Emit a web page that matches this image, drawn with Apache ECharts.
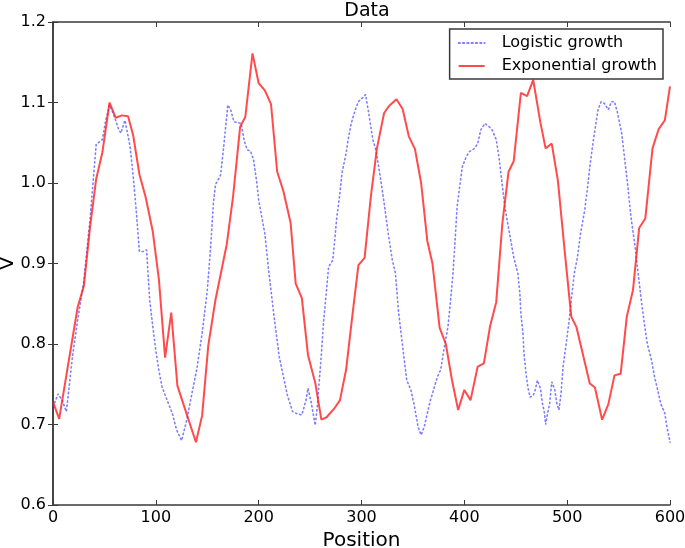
<!DOCTYPE html>
<html>
<head>
<meta charset="utf-8">
<script src="https://cdn.jsdelivr.net/npm/echarts@6/dist/echarts.min.js"></script>
<style>
html,body{margin:0;padding:0;background:#fff;}
#chart{width:685px;height:548px;}
</style>
</head>
<body>
<div id="chart"></div>
<script>
// ---- data ----
var xTicks = [0, 100, 200, 300, 400, 500, 600];
var yTicks = [0.6, 0.7, 0.8, 0.9, 1.0, 1.1, 1.2];

var expX = [0,6,24,30,36,42,48,55,61,67,73,78,84,90,97,103,109,115,121,139,145,151,158,169,175,182,187,194,200,206,212,218,224,231,236,242,248,255,261,266,273,279,285,291,297,303,309,315,322,327,334,340,346,352,358,364,369,376,382,388,394,400,406,413,419,425,431,437,443,448,455,461,467,474,479,485,491,498,504,509,522,527,534,540,546,552,558,564,570,576,583,589,595,600];
var expY = [0.728,0.707,0.846,0.872,0.945,1.005,1.038,1.100,1.081,1.084,1.083,1.059,1.011,0.983,0.940,0.880,0.783,0.839,0.748,0.678,0.711,0.798,0.855,0.924,0.982,1.070,1.082,1.161,1.124,1.115,1.098,1.014,0.990,0.951,0.875,0.857,0.786,0.752,0.706,0.709,0.719,0.730,0.768,0.834,0.898,0.907,0.982,1.043,1.087,1.096,1.104,1.092,1.058,1.042,1.000,0.928,0.900,0.820,0.800,0.755,0.718,0.743,0.730,0.772,0.776,0.822,0.852,0.950,1.014,1.027,1.112,1.108,1.128,1.075,1.043,1.049,1.003,0.910,0.834,0.821,0.751,0.746,0.706,0.725,0.761,0.763,0.834,0.867,0.944,0.956,1.043,1.067,1.078,1.120];

var logX = [0,5,9,13,19,24,30,36,42,48,51,55,59,64,66,70,75,78,81,84,88,91,94,97,100,103,106,111,116,120,125,130,135,140,145,150,153,156,158,163,166,170,173,176,183,186,189,192,195,198,200,206,210,215,220,224,228,233,238,242,246,248,251,255,257,259,261,263,266,268,272,274,276,279,281,285,287,290,294,297,302,304,307,311,314,318,322,326,330,333,336,340,344,348,351,355,358,361,364,367,371,374,377,380,384,386,389,391,393,396,398,402,405,410,413,416,420,424,427,431,434,437,439,441,444,448,452,454,455,457,458,460,462,464,467,469,471,474,476,478,479,481,483,485,488,490,492,494,496,499,502,504,507,510,513,517,520,522,525,527,530,533,536,540,543,546,549,553,556,559,562,566,569,572,575,578,582,585,588,591,595,597,599,600];
var logY = [0.722,0.738,0.730,0.716,0.785,0.830,0.878,0.955,1.048,1.054,1.076,1.097,1.085,1.066,1.062,1.078,1.045,1.008,0.965,0.915,0.915,0.917,0.855,0.822,0.792,0.767,0.747,0.730,0.714,0.694,0.680,0.705,0.738,0.770,0.813,0.866,0.915,0.975,0.998,1.010,1.045,1.097,1.090,1.076,1.074,1.052,1.041,1.040,1.029,1.002,0.979,0.937,0.888,0.834,0.784,0.760,0.736,0.716,0.713,0.712,0.730,0.745,0.728,0.699,0.722,0.755,0.788,0.826,0.867,0.896,0.904,0.929,0.958,0.987,1.012,1.037,1.054,1.074,1.091,1.101,1.107,1.110,1.087,1.054,1.041,1.010,0.975,0.937,0.904,0.888,0.840,0.797,0.755,0.743,0.726,0.697,0.687,0.697,0.714,0.730,0.747,0.760,0.768,0.792,0.821,0.846,0.888,0.929,0.971,1.000,1.020,1.033,1.039,1.043,1.049,1.066,1.074,1.070,1.066,1.054,1.029,0.996,0.975,0.958,0.937,0.908,0.888,0.863,0.838,0.813,0.788,0.763,0.745,0.734,0.736,0.743,0.755,0.745,0.726,0.714,0.700,0.714,0.726,0.753,0.743,0.726,0.718,0.738,0.772,0.800,0.830,0.855,0.888,0.908,0.937,0.966,0.996,1.020,1.049,1.066,1.091,1.101,1.099,1.091,1.101,1.101,1.087,1.062,1.029,0.996,0.958,0.921,0.888,0.855,0.826,0.800,0.780,0.759,0.743,0.726,0.714,0.697,0.685,0.678];

var seriesNames = ['Logistic growth', 'Exponential growth'];
var titleText = 'Data';
var xName = 'Position';
var yName = 'V';

function pairs(xs, ys) { return xs.map(function (x, i) { return [x, ys[i]]; }); }

var FONT = 'DejaVu Sans';
var AX = '#3a3a3a';
var chart = echarts.init(document.getElementById('chart'), null, {renderer: 'canvas'});

var tickCommon = {show: true, inside: true, length: 5, lineStyle: {color: AX, width: 1}};
var axisLineCommon = {show: true, lineStyle: {color: AX, width: 1.5}};

chart.setOption({
  animation: false,
  backgroundColor: '#ffffff',
  title: {
    text: titleText, left: 362, top: -3, textAlign: 'center',
    textStyle: {fontFamily: FONT, fontSize: 19, fontWeight: 'normal', color: '#000'}
  },
  grid: {left: 53, right: 15, top: 22, bottom: 43, containLabel: false, outerBoundsMode: 'none'},
  legend: {
    data: seriesNames, orient: 'vertical', right: 22, top: 29,
    backgroundColor: '#fff', borderColor: AX, borderWidth: 1.5, borderRadius: 0,
    padding: [6, 6, 5, 8], itemGap: 7, itemWidth: 26, itemHeight: 14,
    itemStyle: {opacity: 0, borderWidth: 0},
    textStyle: {fontFamily: FONT, fontSize: 16, color: '#000', padding: [0, 0, 0, 12]}
  },
  xAxis: [{
    type: 'value', min: xTicks[0], max: xTicks[xTicks.length - 1], interval: 100,
    position: 'bottom',
    name: xName, nameLocation: 'middle', nameGap: 26,
    nameTextStyle: {fontFamily: FONT, fontSize: 20, color: '#000'},
    axisLine: axisLineCommon, axisTick: tickCommon,
    axisLabel: {fontFamily: FONT, fontSize: 16, color: '#000', margin: 5},
    splitLine: {show: false}
  }, {
    type: 'value', min: xTicks[0], max: xTicks[xTicks.length - 1], interval: 100,
    position: 'top',
    axisLine: axisLineCommon, axisTick: tickCommon,
    axisLabel: {show: false}, splitLine: {show: false}
  }],
  yAxis: [{
    type: 'value', min: yTicks[0], max: yTicks[yTicks.length - 1], interval: 0.1,
    position: 'left',
    name: yName, nameLocation: 'middle', nameGap: 45, nameRotate: 90, nameMoveOverlap: false,
    nameTextStyle: {fontFamily: FONT, fontSize: 20, color: '#000', verticalAlign: 'middle'},
    axisLine: axisLineCommon, axisTick: tickCommon,
    axisLabel: {fontFamily: FONT, fontSize: 16, color: '#000', margin: 7,
      formatter: function (v) { return v.toFixed(1); }},
    splitLine: {show: false}
  }, {
    type: 'value', min: yTicks[0], max: yTicks[yTicks.length - 1], interval: 0.1,
    position: 'right',
    axisLine: axisLineCommon, axisTick: tickCommon,
    axisLabel: {show: false}, splitLine: {show: false}
  }],
  series: [{
    name: seriesNames[0], type: 'line', data: pairs(logX, logY),
    showSymbol: false, symbol: 'none', smooth: false,
    itemStyle: {color: 'rgba(40,40,255,0.7)'},
    lineStyle: {color: 'rgba(40,40,255,0.6)', width: 1.6, type: [1.3, 3], cap: 'round'},
    z: 2
  }, {
    name: seriesNames[1], type: 'line', data: pairs(expX, expY),
    showSymbol: false, symbol: 'none', smooth: false,
    itemStyle: {color: 'rgba(255,30,30,0.85)'},
    lineStyle: {color: 'rgba(255,30,30,0.8)', width: 2},
    z: 3
  }]
});
</script>
</body>
</html>
